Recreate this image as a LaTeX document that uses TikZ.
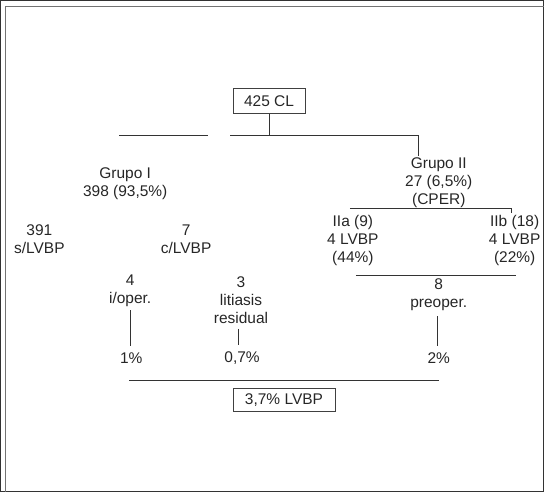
\documentclass[tikz,border=0pt]{standalone}
\usepackage{fontspec}
\setmainfont{Liberation Sans}
\begin{document}
\begin{tikzpicture}[x=1pt,y=-1pt,
  txt/.style={align=center,inner sep=1pt,text=black!85,font=\fontsize{15.5}{18}\selectfont},
  caja/.style={txt,draw=black!75,line width=0.8pt,inner sep=0pt},
  every path/.style={line width=0.8pt,draw=black!80}]
\useasboundingbox (0,0) rectangle (544,492);
% marco
\draw[draw=black!55,line width=1.6pt] (5,492)--(5,6)--(544,6);
% raiz
\node[caja,minimum width=72pt,minimum height=25pt] (total) at (269,101) {425 CL};
\coordinate (raiz) at (269,135);
\draw (total.south)--(raiz);
\coordinate (barIa) at (119,135);
\coordinate (barIb) at (208,135);
\coordinate (barIIa) at (230,135);
\coordinate (barIIb) at (419,135);
\draw (barIa)--(barIb);
\draw (barIIa)--(barIIb)--++(0,21);
% grupo I
\node[txt] (g1) at (125,184) {Grupo I\\398 (93,5\%)};
\node[txt] (s391) at (39,239) {391\\s/LVBP};
\node[txt] (c7) at (186,239) {7\\c/LVBP};
\node[txt] (ioper) at (130,291) {4\\i/oper.};
\node[txt] (resid) at (241,300) {3\\litiasis\\residual};
\node[txt] (p1) at (131,358) {1\%};
\node[txt] (p07) at (242,358) {0,7\%};
\draw[shorten <=2pt,shorten >=5pt] (ioper.south)--(ioper.south |- p1.north);
\draw[shorten <=4pt,shorten >=5pt] (resid.south -| 238,0)--(238,0 |- p07.north);
% grupo II
\node[txt] (g2) at (439,183) {Grupo II\\27 (6,5\%)\\(CPER)};
\coordinate (barIIc) at (350,208);
\coordinate (barIId) at (512,208);
\draw (barIIc)--(barIId)--++(0,5);
\node[txt] (IIa) at (353,240) {IIa (9)\\4 LVBP\\(44\%)};
\node[txt] (IIb) at (515,240) {IIb (18)\\4 LVBP\\(22\%)};
\coordinate (barIIe) at (356,275);
\coordinate (barIIf) at (516,275);
\draw (barIIe)--(barIIf);
\node[txt] (preop) at (439,295) {8\\preoper.};
\node[txt] (p2) at (439,358) {2\%};
\draw[shorten <=4pt,shorten >=5pt] (preop.south -| 438,0)--(438,0 |- p2.north);
% total LVBP
\coordinate (barTa) at (129,381);
\coordinate (barTb) at (439,381);
\draw (barTa)--(barTb);
\node[caja,minimum width=102pt,minimum height=23pt] (lvbp) at (284,400) {3,7\% LVBP};
\end{tikzpicture}
\end{document}
